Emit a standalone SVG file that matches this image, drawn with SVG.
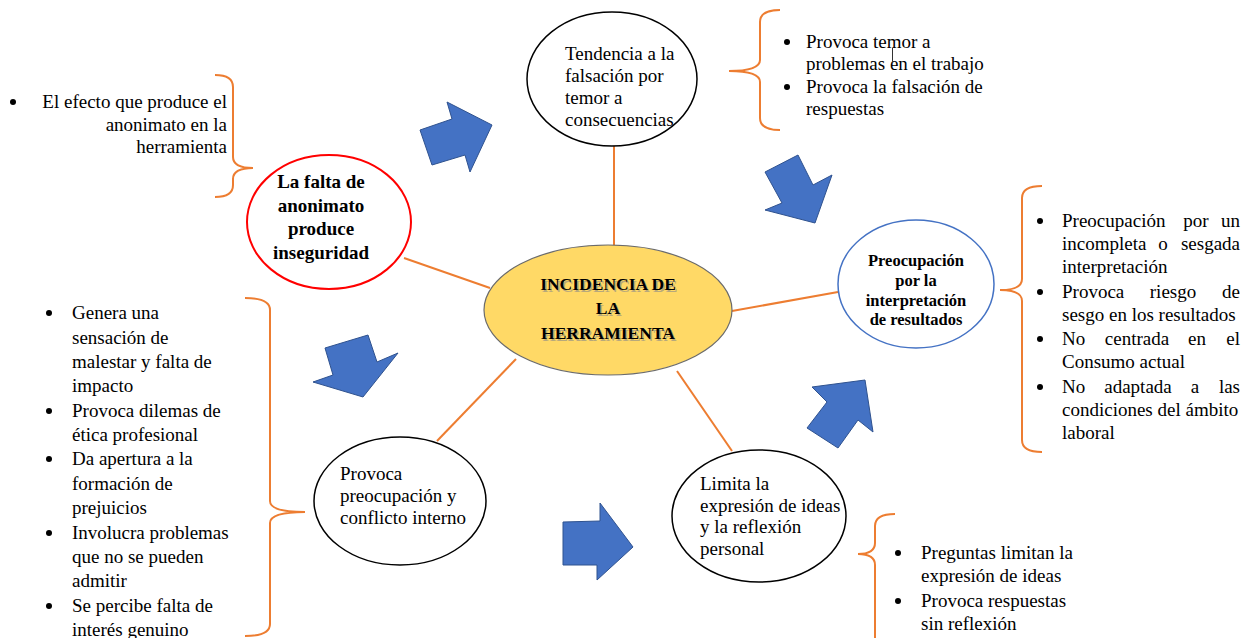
<svg xmlns="http://www.w3.org/2000/svg" width="1259" height="638" viewBox="0 0 1259 638">
<style>
.t{font-family:"Liberation Serif","Times New Roman",serif;font-size:19px;fill:#000}
.b{font-weight:bold}
.brace{fill:none;stroke:#ED7D31;stroke-width:2}
.conn{stroke:#ED7D31;stroke-width:2}
.arrow{fill:#4472C4;stroke:#2F528F;stroke-width:1}
.dot{fill:#000}
</style>
<rect width="1259" height="638" fill="#fff"/>
<g id="connectors">
<line class="conn" x1="614" y1="146" x2="614" y2="246"/>
<line class="conn" x1="404" y1="258" x2="490" y2="288"/>
<line class="conn" x1="838" y1="292" x2="732" y2="311"/>
<line class="conn" x1="437" y1="441" x2="516" y2="359"/>
<line class="conn" x1="677" y1="371" x2="732" y2="451"/>
</g>
<g id="block-arrows">
<polygon class="arrow" points="420,130 452,119 447,102 492,125 470,172 465,155 432,165"/>
<polygon class="arrow" points="765,172 798,155 813,185 832,175 815,223 765,210 782,203"/>
<polygon class="arrow" points="325,348 368,335 377,362 398,353 363,397 313,382 333,375"/>
<polygon class="arrow" points="812,387 865,380 873,432 858,420 838,448 807,428 827,402"/>
<polygon class="arrow" points="563,522 600,521 600,503 633,547 597,580 597,565 563,565"/>
</g>
<g id="braces">
<path class="brace" d="M780 10 Q760 10 760 22 L760 60 Q760 71 729 71 Q760 71 760 82 L760 118 Q760 130 780 130"/>
<path class="brace" d="M215 75 Q233 75 233 87 L233 157 Q233 168 253 168 Q233 168 233 179 L233 185 Q233 197 215 197"/>
<path class="brace" d="M1042 186 Q1022 186 1022 198 L1022 279 Q1022 290 1000 290 Q1022 290 1022 301 L1022 440 Q1022 452 1042 452"/>
<path class="brace" d="M245 298 Q270 298 270 310 L270 501 Q270 512 305 512 Q270 512 270 523 L270 624 Q270 636 245 636"/>
<path class="brace" d="M895 514 Q875 514 875 526 L875 543 Q875 554 858 554 Q875 554 875 565 L875 640"/>
</g>
<g id="node-center">
<ellipse cx="608" cy="310" rx="124" ry="65" fill="#FFD966" stroke="#6b6b6b" stroke-width="1.2"/>
<g class="t b" text-anchor="middle" style="font-size:17.5px">
<text x="609.5" y="291.5" fill="#8a8a8a" opacity="0.6">INCIDENCIA DE</text>
<text x="609.5" y="315.5" fill="#8a8a8a" opacity="0.6">LA</text>
<text x="609.5" y="340.5" fill="#8a8a8a" opacity="0.6">HERRAMIENTA</text>
<text x="608" y="290">INCIDENCIA DE</text>
<text x="608" y="314">LA</text>
<text x="608" y="339">HERRAMIENTA</text>
</g>
</g>
<g id="node-tendencia">
<ellipse cx="612" cy="79" rx="85" ry="67" fill="#fff" stroke="#000" stroke-width="1.5"/>
<text class="t" x="565" y="60">Tendencia a la</text>
<text class="t" x="565" y="82">falsación por</text>
<text class="t" x="565" y="104">temor a</text>
<text class="t" x="565" y="126">consecuencias</text>
</g>
<g id="node-anonimato">
<ellipse cx="329" cy="222" rx="82" ry="67" fill="#fff" stroke="#FF0000" stroke-width="2"/>
<g class="t b" text-anchor="middle">
<text x="321" y="188">La falta de</text>
<text x="321" y="212">anonimato</text>
<text x="321" y="235">produce</text>
<text x="321" y="259">inseguridad</text>
</g>
</g>
<g id="node-preocupacion-interpretacion">
<ellipse cx="916" cy="284" rx="78" ry="64" fill="#fff" stroke="#4472C4" stroke-width="1.5"/>
<g class="t b" text-anchor="middle" style="font-size:16.5px">
<text x="916" y="266">Preocupación</text>
<text x="916" y="286">por la</text>
<text x="916" y="306">interpretación</text>
<text x="916" y="325">de resultados</text>
</g>
</g>
<g id="node-conflicto">
<ellipse cx="400" cy="501" rx="86" ry="64" fill="#fff" stroke="#000" stroke-width="1.5"/>
<text class="t" x="340" y="480">Provoca</text>
<text class="t" x="340" y="502">preocupación y</text>
<text class="t" x="340" y="524">conflicto interno</text>
</g>
<g id="node-limita">
<ellipse cx="759" cy="516" rx="87" ry="66" fill="#fff" stroke="#000" stroke-width="1.5"/>
<text class="t" x="700" y="490">Limita la</text>
<text class="t" x="700" y="512">expresión de ideas</text>
<text class="t" x="700" y="533">y la reflexión</text>
<text class="t" x="700" y="555">personal</text>
</g>
<g id="list-top-left">
<circle class="dot" cx="13" cy="102" r="3"/>
<g class="t" text-anchor="end">
<text x="227" y="108">El efecto que produce el</text>
<text x="227" y="131">anonimato en la</text>
<text x="227" y="153">herramienta</text>
</g>
</g>
<g id="list-top-right">
<circle class="dot" cx="787" cy="42" r="3"/>
<circle class="dot" cx="787" cy="87" r="3"/>
<text class="t" x="806" y="48">Provoca temor a</text>
<text class="t" x="806" y="70">problemas en el trabajo</text>
<text class="t" x="806" y="93">Provoca la falsación de</text>
<text class="t" x="806" y="115">respuestas</text>
<line x1="892.5" y1="48" x2="892.5" y2="63" stroke="#333" stroke-width="1"/>
</g>
<g id="list-left">
<circle class="dot" cx="49" cy="313" r="3"/>
<circle class="dot" cx="49" cy="411" r="3"/>
<circle class="dot" cx="49" cy="459" r="3"/>
<circle class="dot" cx="49" cy="533" r="3"/>
<circle class="dot" cx="49" cy="606" r="3"/>
<g class="t">
<text x="72" y="319">Genera una</text>
<text x="72" y="343.5">sensación de</text>
<text x="72" y="368">malestar y falta de</text>
<text x="72" y="392">impacto</text>
<text x="72" y="416.5">Provoca dilemas de</text>
<text x="72" y="441">ética profesional</text>
<text x="72" y="465">Da apertura a la</text>
<text x="72" y="489.5">formación de</text>
<text x="72" y="514">prejuicios</text>
<text x="72" y="538.5">Involucra problemas</text>
<text x="72" y="563">que no se pueden</text>
<text x="72" y="587">admitir</text>
<text x="72" y="611.5">Se percibe falta de</text>
<text x="72" y="636">interés genuino</text>
</g>
</g>
<g id="list-right">
<circle class="dot" cx="1040" cy="221" r="3"/>
<circle class="dot" cx="1040" cy="292" r="3"/>
<circle class="dot" cx="1040" cy="339" r="3"/>
<circle class="dot" cx="1040" cy="387" r="3"/>
<g class="t">
<text x="1062" y="227">Preocupación</text>
<text x="1196" y="227" text-anchor="middle">por</text>
<text x="1240" y="227" text-anchor="end">un</text>
<text x="1062" y="250">incompleta</text>
<text x="1163" y="250" text-anchor="middle">o</text>
<text x="1240" y="250" text-anchor="end">sesgada</text>
<text x="1062" y="273">interpretación</text>
<text x="1062" y="298">Provoca</text>
<text x="1173" y="298" text-anchor="middle">riesgo</text>
<text x="1240" y="298" text-anchor="end">de</text>
<text x="1062" y="321">sesgo en los resultados</text>
<text x="1062" y="345">No</text>
<text x="1137" y="345" text-anchor="middle">centrada</text>
<text x="1197" y="345" text-anchor="middle">en</text>
<text x="1240" y="345" text-anchor="end">el</text>
<text x="1062" y="368">Consumo actual</text>
<text x="1062" y="393">No</text>
<text x="1138" y="393" text-anchor="middle">adaptada</text>
<text x="1195" y="393" text-anchor="middle">a</text>
<text x="1240" y="393" text-anchor="end">las</text>
<text x="1062" y="416">condiciones del ámbito</text>
<text x="1062" y="439">laboral</text>
</g>
</g>
<g id="list-bottom-right">
<circle class="dot" cx="898" cy="553" r="3"/>
<circle class="dot" cx="898" cy="601" r="3"/>
<text class="t" x="921" y="559">Preguntas limitan la</text>
<text class="t" x="921" y="582">expresión de ideas</text>
<text class="t" x="921" y="607">Provoca respuestas</text>
<text class="t" x="921" y="630">sin reflexión</text>
</g>
</svg>
